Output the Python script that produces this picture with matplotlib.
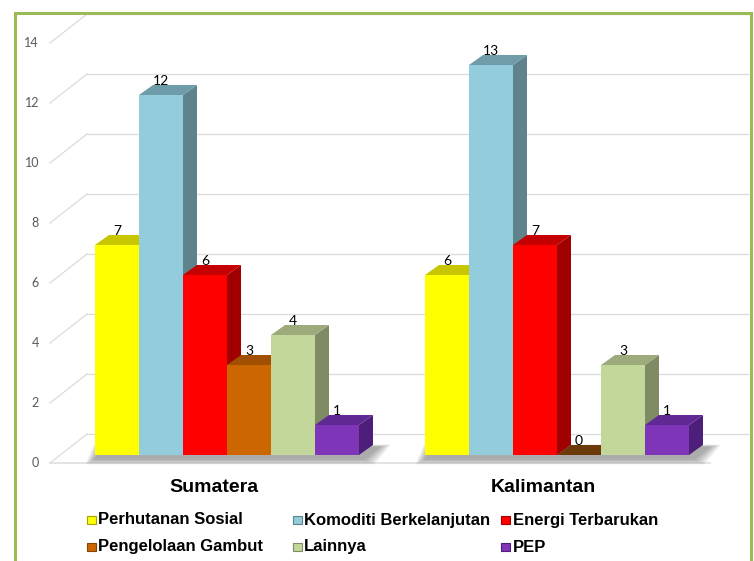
import matplotlib
matplotlib.use("Agg")
import matplotlib.pyplot as plt
from matplotlib.patches import Polygon, Rectangle

# ---------------- data ----------------
regions = ["Sumatera", "Kalimantan"]
series = ["Perhutanan Sosial", "Komoditi Berkelanjutan", "Energi Terbarukan",
          "Pengelolaan Gambut", "Lainnya", "PEP"]
sumatera = [7, 12, 6, 3, 4, 1]
kalimantan = [6, 13, 7, 0, 3, 1]
yticks = [0, 2, 4, 6, 8, 10, 12, 14]

# ---------------- styles ----------------
front_colors = ["#FFFF00", "#93CDDD", "#FF0000", "#CC6600", "#C4D79B", "#7F35B8"]
top_colors = ["#C8C600", "#6E9CA9", "#C40000", "#A05000", "#9DAA7C", "#5F2892"]
side_colors = ["#A6A400", "#5E838D", "#A00000", "#8A4500", "#7F8B64", "#4D1F7A"]
zero_color = "#6B3A08"
grid_color = "#DCDCDC"
border_color = "#9BBB59"

W, H = 754, 561
fig = plt.figure(figsize=(W / 100, H / 100), dpi=100)
ax = fig.add_axes([0, 0, 1, 1])

# axes frame: one bar slot = SLOT px, one value unit = UNIT px
SLOT, UNIT = 44.0, 30.0
X0, Y0 = 95.0, 455.0
ax.set_xlim(-X0 / SLOT, (W - X0) / SLOT)
ax.set_ylim(-(H - Y0) / UNIT, Y0 / UNIT)
ax.axis("off")


def ux(px):
    return (px - X0) / SLOT


def vy(py):
    return (Y0 - py) / UNIT


DX, DY = 14 / SLOT, 10 / UNIT          # bar depth offset
group_start = [0.0, 330 / SLOT]         # first bar left edge per group
nser = len(series)

# ---------------- walls / gridlines ----------------
wl_front, wl_back, w_right, f_right = ux(50), ux(87), ux(748), ux(710)
fy_front, fy_back = vy(463), vy(434)
for v in yticks:
    ax.plot([wl_front, wl_back], [fy_front + v, fy_back + v], color=grid_color, lw=0.9, zorder=1)
    ax.plot([wl_back, w_right], [fy_back + v, fy_back + v], color=grid_color, lw=0.9, zorder=1)
    ax.text(ux(39), fy_front + v, str(v), ha="right", va="center", fontsize=9,
            color="#595959", family="Lato", zorder=5)
ax.plot([wl_front, f_right], [fy_front, fy_front], color=grid_color, lw=1.1, zorder=1)

# ---------------- soft shadows under each cluster ----------------
sx, sy = 1 / SLOT, 1 / UNIT
for g in group_start:
    left, right = g, g + nser
    for k in range(12):
        e = 12 - k
        pts = [(left - e * sx * 0.8, -4 * sy - e * sy * 0.45),
               (right + 4 * sx + e * sx, -4 * sy - e * sy * 0.45),
               (right + DX + 6 * sx + e * sx, DY - 2 * sy + e * sy * 0.2),
               (left + DX - 6 * sx - e * sx * 0.8, DY - 2 * sy + e * sy * 0.2)]
        ax.add_patch(Polygon(pts, closed=True, facecolor="#606060", edgecolor="none",
                             alpha=0.055, zorder=2))

# ---------------- bars ----------------
for g, vals in zip(group_start, [sumatera, kalimantan]):
    xs = [g + i + 0.5 for i in range(nser)]
    for i, (x, v) in enumerate(zip(xs, vals)):
        l, r = x - 0.5, x + 0.5
        z = 3 + i * 0.1
        if v > 0:
            ax.add_patch(Polygon([(r, 0), (r + DX, DY), (r + DX, v + DY), (r, v)],
                                 closed=True, facecolor=side_colors[i], edgecolor="none", zorder=z))
            ax.add_patch(Polygon([(l, v), (l + DX, v + DY), (r + DX, v + DY), (r, v)],
                                 closed=True, facecolor=top_colors[i], edgecolor="none", zorder=z))
            ax.bar([x], [v], width=1.0, bottom=0, color=front_colors[i],
                   edgecolor="none", zorder=z + 0.01)
        else:
            ax.add_patch(Polygon([(l, 0), (l + DX, DY), (r + DX, DY), (r, 0)],
                                 closed=True, facecolor=zero_color, edgecolor="none", zorder=z))
        ax.text(x, v + DY + 4 / UNIT, str(v), ha="center", va="center", fontsize=10,
                color="black", family="Lato", zorder=6)

# ---------------- category labels ----------------
for name, cx in zip(regions, [ux(214), ux(543)]):
    ax.text(cx, vy(487), name, ha="center", va="center", fontsize=14,
            fontweight="bold", family="Liberation Sans", zorder=6)

# ---------------- legend ----------------
col_marker = [86.5, 292.5, 500.5]
col_text = [98, 304, 513]
row_y = [519.5, 546.5]
for i, name in enumerate(series):
    r, c = divmod(i, 3)
    mx, my = col_marker[c], row_y[r]
    ax.add_patch(Rectangle((ux(mx), vy(my + 4)), 9 / SLOT, 8 / UNIT,
                           facecolor=front_colors[i], edgecolor=side_colors[i], lw=0.8, zorder=6))
    ax.text(ux(col_text[c]), vy(my + 0.5), name, ha="left", va="center", fontsize=12,
            fontweight="bold", family="Liberation Sans", zorder=6)

# ---------------- green border ----------------
bx0, bx1, by0 = 15.0, 751.0, 13.0
ax.plot([ux(bx0), ux(bx0), ux(bx1), ux(bx1)],
        [vy(H + 5), vy(by0), vy(by0), vy(H + 5)],
        color=border_color, lw=2.2, zorder=7, solid_joinstyle="miter", clip_on=False)

fig.savefig("out.png", dpi=100)
